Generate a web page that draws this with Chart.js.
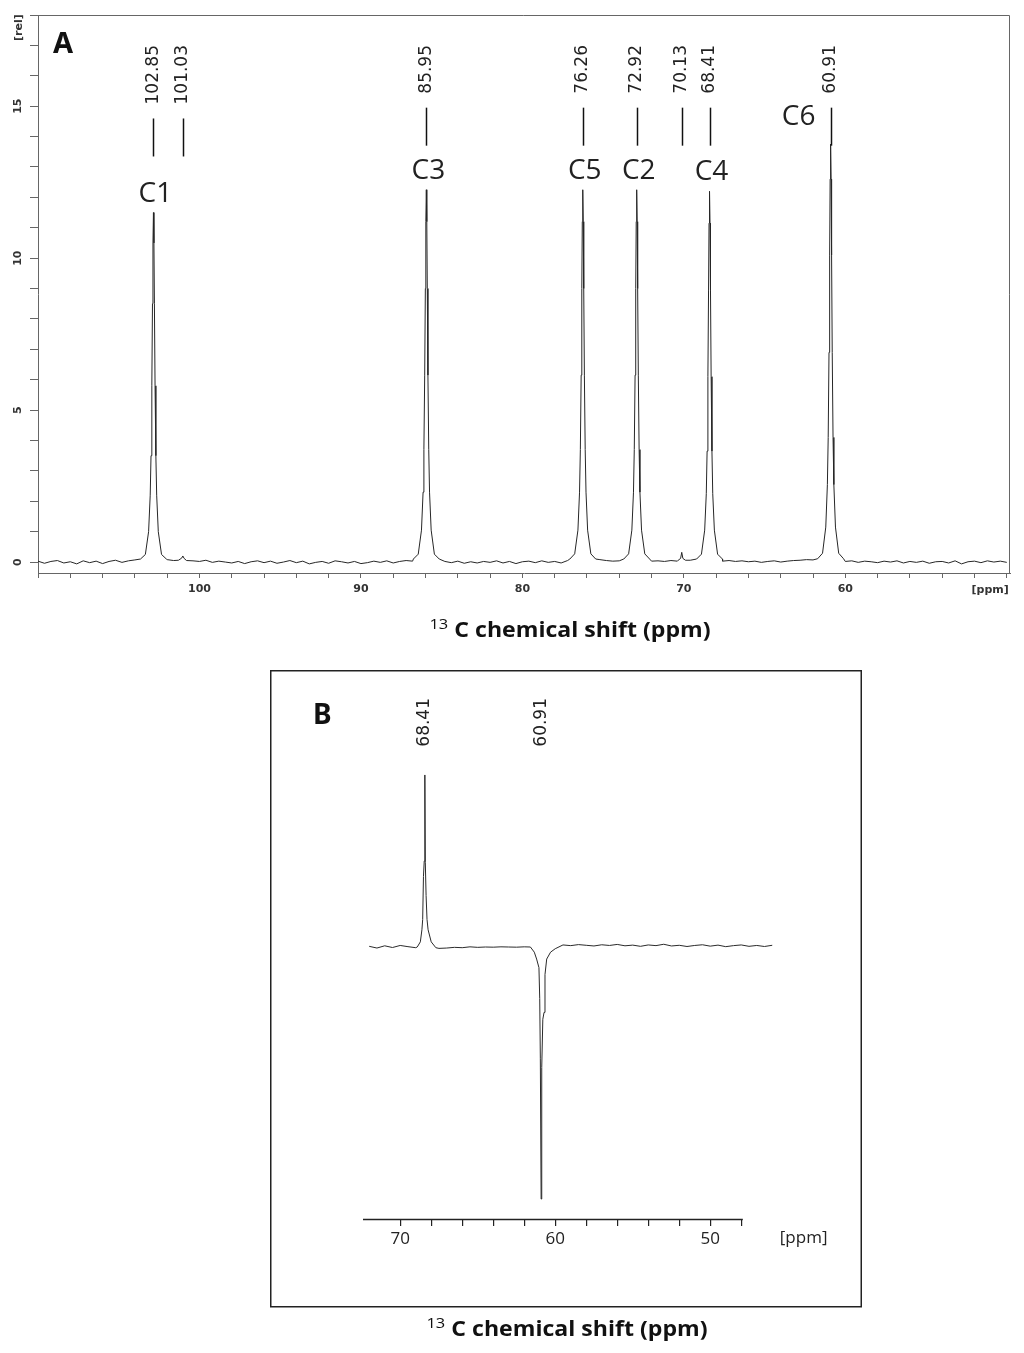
<!DOCTYPE html>
<html lang="en">
<head>
<meta charset="utf-8">
<script src="https://cdn.jsdelivr.net/npm/chart.js"></script>
<style>
    body {
        margin: 0;
        background: #ffffff;
        width: 1024px;
        height: 1353px;
        position: relative;
        overflow: hidden;
    }
    #wrapA { position: absolute; left: 0; top: 0; }
    #wrapB { position: absolute; left: 270px; top: 670px; }
</style>
</head>
<body>
<div id="wrapA"><canvas id="chartA" width="1024" height="660"></canvas></div>
<div id="wrapB"><canvas id="chartB" width="592" height="683"></canvas></div>
<script>
// ---------- Panel A: 13C spectrum (ppm, rel. intensity) ----------
const xTicksA = [50, 52, 54, 56, 58, 60, 62, 64, 66, 68, 70, 72, 74, 76, 78, 80,
                 82, 84, 86, 88, 90, 92, 94, 96, 98, 100, 102, 104, 106, 108, 110];
const xLabelsA = [60, 70, 80, 90, 100];
const yTicksA = [0, 1, 2, 3, 4, 5, 6, 7, 8, 9, 10, 11, 12, 13, 14, 15, 16, 17, 18];
const yLabelsA = [0, 5, 10, 15];

// baseline noise, read every 0.4 ppm starting at 110 ppm
const baselineStartA = 110.0;
const baselineStepA = 0.4;
const baselineA = [
    0.03, -0.04, 0.02, 0.05, -0.03, 0.01, -0.06, 0.04, -0.02, 0.03,
    -0.05, 0.02, 0.06, -0.01, 0.04, 0.07, 0.09, 0.12, 0.10, 0.08,
    0.08, 0.05, 0.07, 0.10, 0.04, 0.02, 0.06, -0.01, 0.03, 0.00,
    -0.03, 0.02, -0.05, 0.01, 0.04, -0.02, 0.03, -0.04, 0.00, 0.05,
    -0.02, 0.03, -0.06, -0.01, 0.02, -0.04, 0.04, 0.01, -0.03, 0.02,
    -0.05, -0.02, 0.03, -0.01, 0.04, -0.03, 0.02, 0.05, 0.03, 0.06,
    0.08, 0.06, 0.04, 0.02, -0.02, 0.03, -0.04, 0.01, -0.03, 0.02,
    -0.01, 0.04, -0.03, 0.02, -0.05, 0.01, 0.03, -0.02, 0.04, -0.01,
    0.02, -0.03, 0.05, 0.08, 0.07, 0.09, 0.06, 0.08, 0.05, 0.03,
    0.04, 0.07, 0.08, 0.06, 0.05, 0.03, 0.04, 0.02, 0.05, 0.03,
    0.04, 0.06, 0.05, 0.07, 0.09, 0.06, 0.03, 0.05, 0.02, 0.04,
    0.01, 0.03, -0.01, 0.02, 0.04, 0.00, 0.03, 0.05, 0.06, 0.08,
    0.07, 0.09, 0.08, 0.06, 0.05, 0.02, 0.04, -0.01, 0.03, 0.01,
    -0.02, 0.03, 0.00, 0.04, -0.03, 0.02, -0.01, 0.03, -0.04, 0.01,
    0.02, -0.03, 0.04, -0.06, 0.01, 0.03, -0.02, 0.04, 0.00, 0.03, -0.01
];

// peaks [ppm, rel]
const peakC1 = [[103.65, 0.1], [103.35, 0.25], [103.15, 1.0], [103.05, 2.2], [103.0, 3.5],
    [102.95, 5.8], [102.91, 8.5], [102.88, 10.5], [102.85, 11.5], [102.82, 10.5], [102.79, 8.5],
    [102.75, 5.8], [102.70, 3.5], [102.65, 2.2], [102.55, 1.0], [102.35, 0.25], [102.05, 0.1]];
const peak101 = [[101.3, 0.06], [101.1, 0.13], [101.03, 0.2], [100.95, 0.12], [100.8, 0.05]];
const peakC3 = [[86.75, 0.1], [86.45, 0.26], [86.25, 1.05], [86.15, 2.3], [86.10, 3.7],
    [86.05, 6.15], [86.01, 9.0], [85.98, 11.2], [85.95, 12.25], [85.92, 11.2], [85.89, 9.0],
    [85.85, 6.15], [85.80, 3.7], [85.75, 2.3], [85.65, 1.05], [85.45, 0.26], [85.15, 0.1]];
const peakC5 = [[77.06, 0.1], [76.76, 0.27], [76.56, 1.05], [76.46, 2.3], [76.41, 3.7],
    [76.36, 6.15], [76.32, 9.0], [76.29, 11.2], [76.26, 12.25], [76.23, 11.2], [76.20, 9.0],
    [76.16, 6.15], [76.11, 3.7], [76.06, 2.3], [75.96, 1.05], [75.76, 0.27], [75.46, 0.1]];
const peakC2 = [[73.72, 0.1], [73.42, 0.27], [73.22, 1.05], [73.12, 2.3], [73.07, 3.7],
    [73.02, 6.15], [72.98, 9.0], [72.95, 11.2], [72.92, 12.25], [72.89, 11.2], [72.86, 9.0],
    [72.82, 6.15], [72.77, 3.7], [72.72, 2.3], [72.62, 1.05], [72.42, 0.27], [72.12, 0.1]];
const peak70 = [[70.35, 0.06], [70.2, 0.12], [70.13, 0.32], [70.06, 0.12], [69.9, 0.06]];
const peakC4 = [[69.21, 0.1], [68.91, 0.26], [68.71, 1.05], [68.61, 2.25], [68.56, 3.65],
    [68.51, 6.1], [68.47, 8.95], [68.44, 11.15], [68.41, 12.2], [68.38, 11.15], [68.35, 8.95],
    [68.31, 6.1], [68.26, 3.65], [68.21, 2.25], [68.11, 1.05], [67.91, 0.26], [67.61, 0.1]];
const peakC6 = [[61.71, 0.11], [61.41, 0.29], [61.21, 1.15], [61.11, 2.55], [61.06, 4.1],
    [61.01, 6.9], [60.97, 10.1], [60.94, 12.6], [60.91, 13.75], [60.88, 12.6], [60.85, 10.1],
    [60.81, 6.9], [60.76, 4.1], [60.71, 2.55], [60.61, 1.15], [60.41, 0.29], [60.11, 0.11]];
const peaksA = [peakC1, peak101, peakC3, peakC5, peakC2, peak70, peakC4, peakC6];

const shiftLabelsA = ['102.85', '101.03', '85.95', '76.26', '72.92', '70.13', '68.41', '60.91'];
const carbonNamesA = ['C1', 'C3', 'C5', 'C2', 'C4', 'C6'];
const carbonShiftsA = [102.85, 85.95, 76.26, 72.92, 68.41, 60.91];
const carbonSideA = ['top', 'top', 'top', 'top', 'top', 'left'];

// ---------- Panel B: DEPT-like spectrum ----------
const xTicksB = [48, 50, 52, 54, 56, 58, 60, 62, 64, 66, 68, 70];
const xLabelsB = [50, 60, 70];
const baselineStartB = 72.0;
const baselineStepB = 0.5;
const baselineB = [
    0.004, -0.006, 0.007, -0.003, 0.009, 0.002, -0.004, 0, 0, -0.008,
    -0.006, -0.002, -0.004, 0.001, -0.002, 0, -0.001, 0.001, 0, -0.001,
    0.001, 0, 0, 0, -0.005, 0.012, 0.008, 0.014, 0.010, 0.006,
    0.013, 0.009, 0.015, 0.007, 0.011, 0.004, 0.012, 0.008, 0.016, 0.006,
    0.010, 0.003, 0.009, 0.013, 0.005, 0.011, 0.002, 0.008, 0.012, 0.004,
    0.009, 0.003, 0.010
];
const peakB68 = [[68.9, 0.0], [68.7, 0.03], [68.6, 0.1], [68.55, 0.16], [68.5, 0.41],
    [68.45, 0.5], [68.41, 1.0], [68.38, 0.49], [68.33, 0.3], [68.27, 0.16], [68.2, 0.1],
    [68.0, 0.03], [67.7, -0.004]];
const peakB61 = [[61.6, 0.0], [61.35, -0.03], [61.2, -0.07], [61.05, -0.12], [61.0, -0.3],
    [60.96, -0.65], [60.91, -1.465], [60.87, -0.7], [60.8, -0.42], [60.72, -0.38],
    [60.66, -0.16], [60.55, -0.07], [60.3, -0.03], [60.0, -0.01]];
const peaksB = [peakB68, peakB61];
const shiftLabelsB = ['68.41', '60.91'];

// merge baseline grid and peak lists into one sorted trace
function buildTrace(start, step, base, peaks) {
    const ranges = peaks.map(p => {
        const xs = p.map(q => q[0]);
        return [Math.min(...xs), Math.max(...xs)];
    });
    const pts = [];
    base.forEach((y, i) => {
        const x = +(start - i * step).toFixed(2);
        if (!ranges.some(r => x >= r[0] && x <= r[1])) pts.push({ x: x, y: y });
    });
    peaks.forEach(p => p.forEach(q => pts.push({ x: q[0], y: q[1] })));
    pts.sort((a, b) => b.x - a.x);
    return pts;
}
const spectrumA = buildTrace(baselineStartA, baselineStepA, baselineA, peaksA);
const spectrumB = buildTrace(baselineStartB, baselineStepB, baselineB, peaksB);

// ---------- drawing helpers ----------
const shiftFont = '17px "DejaVu Sans"';

function drawShiftLabels(ctx, xScale, labels, topY, withBars) {
    ctx.save();
    ctx.font = shiftFont;
    ctx.fillStyle = '#222';
    ctx.strokeStyle = '#111';
    ctx.lineWidth = 1.5;
    labels.forEach(t => {
        const px = xScale.getPixelForValue(parseFloat(t));
        ctx.save();
        ctx.translate(px, topY);
        ctx.rotate(-Math.PI / 2);
        ctx.textAlign = 'right';
        ctx.textBaseline = 'middle';
        ctx.fillText(t, 0, 0);
        ctx.restore();
        if (withBars) {
            const y1 = topY + ctx.measureText(t).width + 14;
            ctx.beginPath();
            ctx.moveTo(Math.round(px) + 0.5, y1);
            ctx.lineTo(Math.round(px) + 0.5, y1 + 38);
            ctx.stroke();
        }
    });
    ctx.restore();
}

function drawAxisTitle(ctx, cx, baseY) {
    const supFont = '15px "Open Sans"';
    const mainFont = '700 21px "Open Sans"';
    const sup = '13';
    const main = ' C chemical shift (ppm)';
    ctx.save();
    ctx.translate(cx, baseY);
    ctx.scale(1.1, 1);
    ctx.font = supFont;
    const w1 = ctx.measureText(sup).width;
    ctx.font = mainFont;
    const w2 = ctx.measureText(main).width;
    const x0 = -(w1 + w2) / 2;
    ctx.fillStyle = '#111';
    ctx.textAlign = 'left';
    ctx.textBaseline = 'alphabetic';
    ctx.font = supFont;
    ctx.fillText(sup, x0, -8);
    ctx.font = mainFont;
    ctx.fillText(main, x0 + w1, 0);
    ctx.restore();
}

function peakTop(peaks, shift) {
    let top = 0;
    peaks.forEach(p => p.forEach(q => {
        if (Math.abs(q[0] - shift) < 0.02 && q[1] > top) top = q[1];
    }));
    return top;
}

const annotateA = {
    id: 'annotateA',
    afterDraw(chart) {
        const ctx = chart.ctx;
        const area = chart.chartArea;
        const xs = chart.scales.x;
        const ys = chart.scales.y;

        // top and right frame
        ctx.save();
        ctx.strokeStyle = '#666';
        ctx.lineWidth = 1;
        ctx.beginPath();
        ctx.moveTo(area.left, area.top + 0.5);
        ctx.lineTo(area.right - 0.5, area.top + 0.5);
        ctx.lineTo(area.right - 0.5, area.bottom);
        ctx.stroke();
        ctx.restore();

        drawShiftLabels(ctx, xs, shiftLabelsA, area.top + 30, true);

        // carbon assignments
        ctx.save();
        ctx.font = '28px "Open Sans"';
        ctx.fillStyle = '#222';
        ctx.textAlign = 'center';
        ctx.textBaseline = 'alphabetic';
        carbonNamesA.forEach((name, i) => {
            const px = xs.getPixelForValue(carbonShiftsA[i]);
            const py = ys.getPixelForValue(peakTop(peaksA, carbonShiftsA[i]));
            if (carbonSideA[i] === 'left') {
                ctx.fillText(name, px - 32, py - 19);
            } else {
                ctx.fillText(name, px + 2, py - 11);
            }
        });
        ctx.restore();

        // panel letter, axis units
        ctx.save();
        ctx.fillStyle = '#111';
        ctx.font = 'bold 29px "Noto Sans"';
        ctx.textAlign = 'left';
        ctx.fillText('A', area.left + 15, area.top + 38);
        ctx.font = 'bold 11px "DejaVu Sans"';
        ctx.fillStyle = '#333';
        ctx.textAlign = 'right';
        ctx.textBaseline = 'middle';
        ctx.fillText('[ppm]', xs.getPixelForValue(50) + 2, area.bottom + 17);
        ctx.translate(19, area.top + 26);
        ctx.rotate(-Math.PI / 2);
        ctx.textAlign = 'left';
        ctx.fillText('[rel]', 0, 0);
        ctx.restore();

        drawAxisTitle(ctx, 570, 637);
    }
};

const annotateB = {
    id: 'annotateB',
    afterDraw(chart) {
        const ctx = chart.ctx;
        const area = chart.chartArea;
        const xs = chart.scales.x;

        // frame of the inset
        ctx.save();
        ctx.strokeStyle = '#222';
        ctx.lineWidth = 1.5;
        ctx.strokeRect(0.75, 0.75, 590.5, 636);
        ctx.restore();

        // axis line
        const x1 = xs.getPixelForValue(72.4);
        const x2 = xs.getPixelForValue(47.9);
        ctx.save();
        ctx.strokeStyle = '#222';
        ctx.lineWidth = 1.5;
        ctx.beginPath();
        ctx.moveTo(x1, area.bottom + 0.5);
        ctx.lineTo(x2, area.bottom + 0.5);
        ctx.stroke();
        ctx.fillStyle = '#222';
        ctx.font = '17px "Open Sans"';
        ctx.textAlign = 'left';
        ctx.textBaseline = 'middle';
        ctx.fillText('[ppm]', x2 + 37, area.bottom + 19);
        ctx.fillStyle = '#111';
        ctx.font = 'bold 28px "Noto Sans"';
        ctx.textBaseline = 'alphabetic';
        ctx.fillText('B', 43, 54);
        ctx.restore();

        drawShiftLabels(ctx, xs, shiftLabelsB, 28, false);
        drawAxisTitle(ctx, 297, 666);
    }
};

new Chart(document.getElementById('chartA'), {
    type: 'scatter',
    data: {
        datasets: [{
            data: spectrumA,
            showLine: true,
            borderColor: '#262626',
            borderWidth: 1,
            pointRadius: 0,
            tension: 0
        }]
    },
    options: {
        responsive: false,
        animation: false,
        devicePixelRatio: 1,
        layout: { padding: { top: 15, right: 14, left: 0, bottom: 0 } },
        plugins: { legend: { display: false }, tooltip: { enabled: false } },
        scales: {
            x: {
                type: 'linear',
                reverse: true,
                min: 49.8,
                max: 110,
                afterBuildTicks: s => { s.ticks = xTicksA.map(v => ({ value: v })); },
                afterFit: s => { s.height = 87; },
                grid: { drawOnChartArea: false, drawTicks: true, tickLength: 5, color: '#666' },
                border: { display: true, color: '#666', width: 1 },
                ticks: {
                    autoSkip: false,
                    maxRotation: 0,
                    padding: 5,
                    color: '#333',
                    font: { family: '"DejaVu Sans"', size: 11, weight: 'bold' },
                    callback: v => xLabelsA.includes(v) ? String(v) : ''
                }
            },
            y: {
                type: 'linear',
                min: -0.36,
                max: 18,
                afterBuildTicks: s => { s.ticks = yTicksA.map(v => ({ value: v })); },
                afterFit: s => { s.width = 38; },
                grid: { drawOnChartArea: false, drawTicks: true, tickLength: 8, color: '#666' },
                border: { display: true, color: '#666', width: 1 },
                ticks: {
                    autoSkip: false,
                    minRotation: 90,
                    maxRotation: 90,
                    crossAlign: 'center',
                    padding: 4,
                    color: '#333',
                    font: { family: '"DejaVu Sans"', size: 11, weight: 'bold' },
                    callback: v => yLabelsA.includes(v) ? String(v) : ''
                }
            }
        }
    },
    plugins: [annotateA]
});

new Chart(document.getElementById('chartB'), {
    type: 'scatter',
    data: {
        datasets: [{
            data: spectrumB,
            showLine: true,
            borderColor: '#2a2a2a',
            borderWidth: 1,
            pointRadius: 0,
            tension: 0
        }]
    },
    options: {
        responsive: false,
        animation: false,
        devicePixelRatio: 1,
        layout: { padding: { top: 90, right: 82, left: 93, bottom: 0 } },
        plugins: { legend: { display: false }, tooltip: { enabled: false } },
        scales: {
            x: {
                type: 'linear',
                reverse: true,
                min: 45.5,
                max: 72.4,
                afterBuildTicks: s => { s.ticks = xTicksB.map(v => ({ value: v })); },
                afterFit: s => { s.height = 134; },
                grid: { drawOnChartArea: false, drawTicks: true, tickLength: 7, color: '#222', lineWidth: 1.2 },
                border: { display: false },
                ticks: {
                    autoSkip: false,
                    maxRotation: 0,
                    padding: 3,
                    color: '#222',
                    font: { family: '"Open Sans"', size: 17 },
                    callback: v => xLabelsB.includes(v) ? String(v) : ''
                }
            },
            y: {
                display: false,
                min: -1.581,
                max: 1.087
            }
        }
    },
    plugins: [annotateB]
});
</script>
</body>
</html>
